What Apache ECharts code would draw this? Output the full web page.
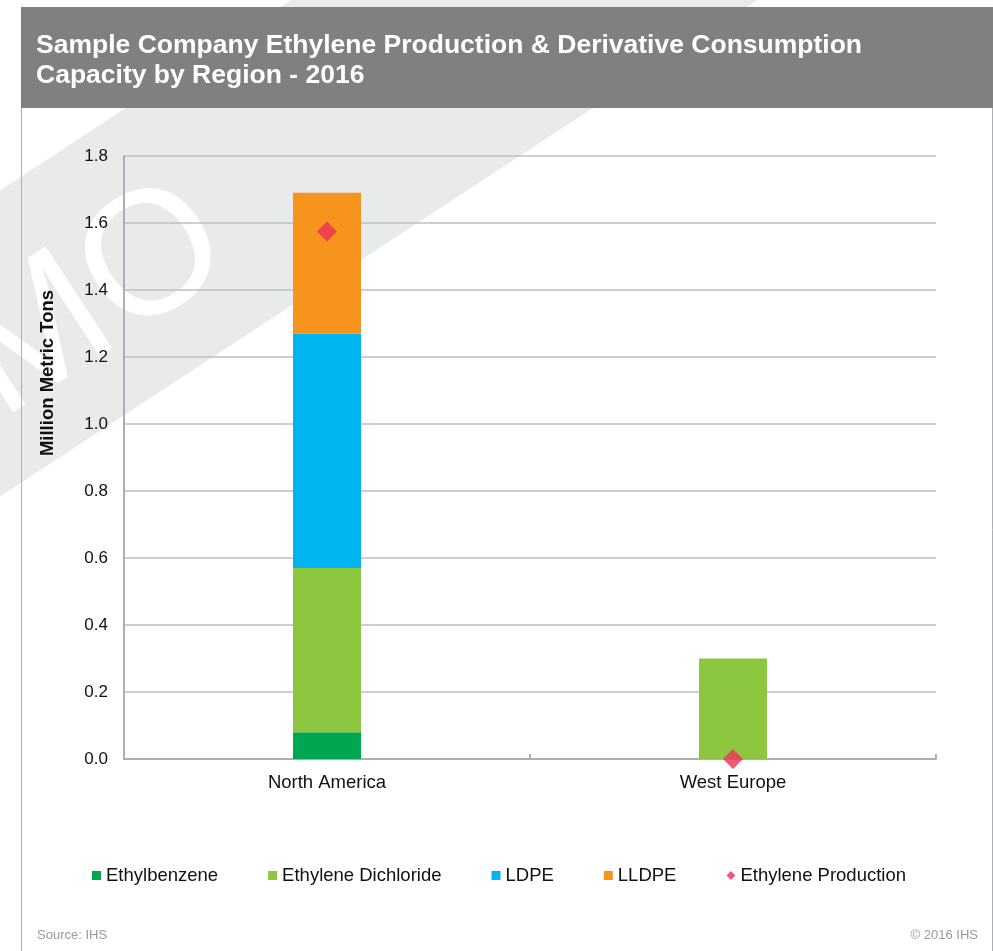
<!DOCTYPE html>
<html>
<head>
<meta charset="utf-8">
<script src="https://cdn.jsdelivr.net/npm/echarts@6/dist/echarts.min.js"></script>
<style>
html,body{margin:0;padding:0;background:#fff;}
#chart{width:993px;height:951px;}
</style>
</head>
<body>
<div id="chart"></div>
<script>
var categories = ['North America', 'West Europe'];
var ethylbenzene = [0.08, 0];
var ethyleneDichloride = [0.49, 0.30];
var ldpe = [0.70, 0];
var lldpe = [0.42, 0];
var ethyleneProduction = [1.575, 0];
var yTicks = [0, 0.2, 0.4, 0.6, 0.8, 1.0, 1.2, 1.4, 1.6, 1.8];

var FONT = '"Liberation Sans", Arial, sans-serif';
var chart = echarts.init(document.getElementById('chart'), null, {renderer: 'canvas'});

function barSeries(name, data, color) {
  return {
    name: name, type: 'bar', stack: 'total', data: data, barWidth: 68,
    itemStyle: {color: color}, z: 2
  };
}

var option = {
  animation: false,
  backgroundColor: '#ffffff',
  textStyle: {fontFamily: FONT},
  graphic: [
    {type: 'rect', z: -20, x: 0, y: 343.5, rotation: 0.580,
      shape: {x: -900, y: -128, width: 1800, height: 256},
      style: {fill: '#e9ebeb'}},
    {type: 'text', z: -19, x: -9, y: 369, rotation: 0.580,
      style: {text: 'DEMO', fill: '#ffffff', font: '176px ' + FONT, align: 'center', verticalAlign: 'middle'}},
    {type: 'rect', z: -5, shape: {x: 21, y: 7, width: 972, height: 101}, style: {fill: '#808080'}},
    {type: 'line', z: -5, shape: {x1: 21.5, y1: 108, x2: 21.5, y2: 951}, style: {stroke: '#a9afb4', lineWidth: 1}},
    {type: 'line', z: -5, shape: {x1: 992.5, y1: 108, x2: 992.5, y2: 951}, style: {stroke: '#a9afb4', lineWidth: 1}},
    {type: 'text', z: 10, x: 36, y: 31,
      style: {text: 'Sample Company Ethylene Production & Derivative Consumption\nCapacity by Region - 2016',
        fill: '#ffffff', font: 'bold 26.5px ' + FONT, lineHeight: 30}},
    {type: 'text', z: 10, x: 47.5, y: 373, rotation: Math.PI / 2,
      style: {text: 'Million Metric Tons', fill: '#111111', font: 'bold 18.5px ' + FONT, align: 'center', verticalAlign: 'middle'}},
    {type: 'text', z: 10, x: 37, y: 935,
      style: {text: 'Source: IHS', fill: '#9a9a9a', font: '13px ' + FONT, verticalAlign: 'middle'}},
    {type: 'text', z: 10, x: 978, y: 935,
      style: {text: '\u00a9 2016 IHS', fill: '#9a9a9a', font: '13px ' + FONT, align: 'right', verticalAlign: 'middle'}}
  ],
  legend: {
    left: 87, top: 861, itemGap: 50, itemWidth: 9, itemHeight: 9,
    textStyle: {fontSize: 18.5, color: '#111', fontFamily: FONT},
    data: [
      {name: 'Ethylbenzene', icon: 'rect'},
      {name: 'Ethylene Dichloride', icon: 'rect'},
      {name: 'LDPE', icon: 'rect'},
      {name: 'LLDPE', icon: 'rect'},
      {name: 'Ethylene Production', icon: 'diamond'}
    ]
  },
  grid: {left: 124, right: 57, top: 156, bottom: 192, containLabel: false},
  xAxis: {
    type: 'category', data: categories,
    axisLine: {lineStyle: {color: '#a9afb4', width: 2}},
    axisTick: {show: true, inside: true, length: 5, lineStyle: {color: '#a9afb4', width: 2}},
    axisLabel: {fontSize: 18.5, color: '#111', margin: 14, fontFamily: FONT}
  },
  yAxis: {
    type: 'value', min: 0, max: 1.8, interval: 0.2,
    axisLine: {show: true, lineStyle: {color: '#a9afb4', width: 2}},
    axisTick: {show: false},
    axisLabel: {fontSize: 17, color: '#111', margin: 16, fontFamily: FONT,
      formatter: function (v) {
        for (var i = 0; i < yTicks.length; i++) { if (Math.abs(yTicks[i] - v) < 1e-9) return yTicks[i].toFixed(1); }
        return '';
      }},
    splitLine: {lineStyle: {color: '#bcc1c5', width: 1.5}}
  },
  series: [
    barSeries('Ethylbenzene', ethylbenzene, '#00a651'),
    barSeries('Ethylene Dichloride', ethyleneDichloride, '#8dc63f'),
    barSeries('LDPE', ldpe, '#00b4f0'),
    barSeries('LLDPE', lldpe, '#f7941d'),
    {name: 'Ethylene Production', type: 'scatter', data: ethyleneProduction,
      symbol: 'diamond', symbolSize: 20, itemStyle: {color: '#ee2f5a'}, z: 5}
  ]
};
chart.setOption(option);
</script>
</body>
</html>
